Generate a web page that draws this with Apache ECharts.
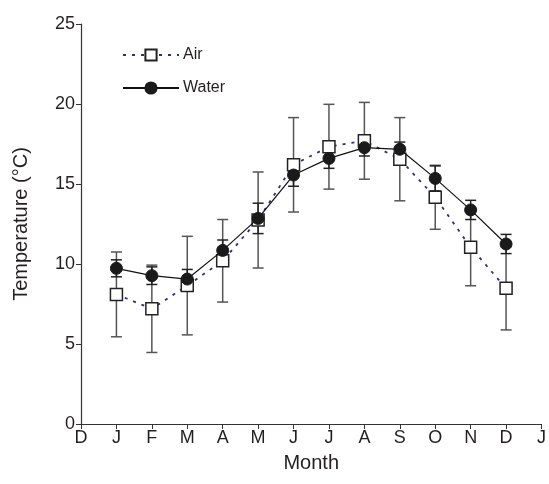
<!DOCTYPE html>
<html>
<head>
<meta charset="utf-8">
<script src="https://cdn.jsdelivr.net/npm/echarts@6/dist/echarts.min.js"></script>
<style>html,body{margin:0;padding:0;background:#fff}#c{width:549px;height:484px}</style>
</head>
<body>
<div id="c"></div>
<script>
var monthLabels = ['D','J','F','M','A','M','J','J','A','S','O','N','D','J'];
// values for J..D (category indices 1..12)
var airMean  = [8.1, 7.2, 8.65, 10.2, 12.75, 16.2, 17.33, 17.7, 16.55, 14.17, 11.04, 8.48];
var airSD    = [2.65, 2.73, 3.08, 2.58, 3.0, 2.95, 2.65, 2.4, 2.6, 2.0, 2.4, 2.6];
var waterMean= [9.73, 9.27, 9.06, 10.85, 12.85, 15.56, 16.6, 17.27, 17.17, 15.35, 13.38, 11.25];
var waterSD  = [0.53, 0.55, 0.6, 0.65, 0.95, 0.7, 0.62, 0.52, 0.45, 0.78, 0.6, 0.6];
var yTicks = [0, 5, 10, 15, 20, 25];

var font = 'Liberation Sans, Arial, Helvetica, sans-serif';
var textColor = '#231f20';

function pts(arr){ return arr.map(function(v,i){ return [i+1, v]; }); }
function bars(m, s){ return m.map(function(v,i){ return [i+1, v - s[i], v + s[i]]; }); }

function errRender(color){
  return function(params, api){
    var x = api.value(0);
    var lo = api.coord([x, api.value(1)]);
    var hi = api.coord([x, api.value(2)]);
    var hw = 5.5;
    var st = {stroke: color, lineWidth: 1.5};
    return {type:'group', children:[
      {type:'line', shape:{x1:lo[0], y1:lo[1], x2:hi[0], y2:hi[1]}, style:st},
      {type:'line', shape:{x1:lo[0]-hw, y1:lo[1], x2:lo[0]+hw, y2:lo[1]}, style:st},
      {type:'line', shape:{x1:hi[0]-hw, y1:hi[1], x2:hi[0]+hw, y2:hi[1]}, style:st}
    ]};
  };
}

var chart = echarts.init(document.getElementById('c'));
chart.setOption({
  animation: false,
  backgroundColor: '#fff',
  grid: {left: 81, right: 5, top: 24, bottom: 60},
  legend: {
    orient: 'vertical', left: 117, top: 42, itemGap: 17,
    itemWidth: 56, itemHeight: 14,
    textStyle: {fontFamily: font, fontSize: 16, color: textColor, padding:[0,0,0,-1]},
    data: [{name:'Air'},{name:'Water'}]
  },
  xAxis: {
    type: 'category', data: monthLabels, boundaryGap: false,
    name: 'Month', nameLocation: 'middle', nameGap: 29,
    nameTextStyle: {fontFamily: font, fontSize: 20, color: textColor},
    axisLine: {lineStyle: {color: '#333', width: 1.2}},
    axisTick: {alignWithLabel: true, length: 5, lineStyle:{color:'#333'}},
    axisLabel: {fontFamily: font, fontSize: 18, color: textColor, margin: 5, interval: 0},
    splitLine: {show:false}
  },
  yAxis: {
    type: 'value', min: 0, max: 25, interval: 5,
    name: 'Temperature (°C)', nameLocation: 'middle', nameGap: 50,
    nameTextStyle: {fontFamily: font, fontSize: 20, color: textColor},
    axisLine: {show: true, lineStyle: {color: '#333', width: 1.2}},
    axisTick: {show: true, length: 5, lineStyle:{color:'#333'}},
    axisLabel: {fontFamily: font, fontSize: 18, color: textColor, margin: 6,
      formatter: function(v){ return yTicks.indexOf(v) >= 0 ? String(v) : ''; }},
    splitLine: {show:false}
  },
  series: [
    {type:'custom', name:'airErr', renderItem: errRender('#555'), data: bars(airMean, airSD), z: 2, silent:true},
    {type:'custom', name:'waterErr', renderItem: errRender('#222'), data: bars(waterMean, waterSD), z: 2, silent:true},
    {type:'line', name:'Air', data: pts(airMean), z: 3,
      symbol:'rect', symbolSize: 12,
      lineStyle:{color:'#2e2e7a', width:1.8, type:[3,6]},
      itemStyle:{color:'#fff', borderColor:'#222', borderWidth:1.5}},
    {type:'line', name:'Water', data: pts(waterMean), z: 4,
      symbol:'circle', symbolSize: 12,
      lineStyle:{color:'#111', width:1.2},
      itemStyle:{color:'#1a1a1a', borderColor:'#1a1a1a', borderWidth:1}}
  ]
});
</script>
</body>
</html>
